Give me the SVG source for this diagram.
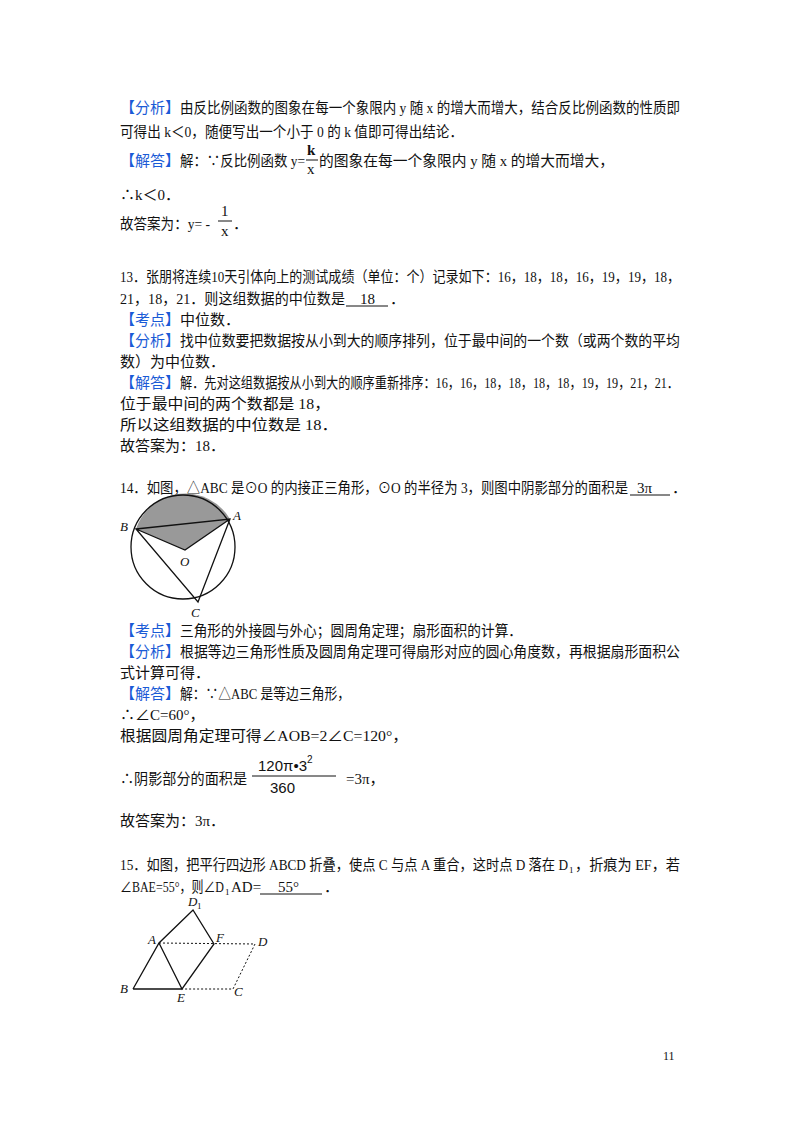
<svg xmlns="http://www.w3.org/2000/svg" width="800" height="1132" viewBox="0 0 800 1132">
<style>
text{font-family:"Liberation Serif","Noto Sans CJK SC",serif;font-size:15px;fill:#111}
.b{fill:#1a5bd6}
.s{font-size:9px}
.l{stroke:#111;stroke-width:1.3;fill:none}
.d{stroke:#111;stroke-width:1;fill:none;stroke-dasharray:2,2}
.ul{stroke:#111;stroke-width:1}
.it{font-style:italic;font-size:13px}
</style>
<rect width="800" height="1132" fill="#fff"/>
<text class="b" x="120" y="113">【分析】</text>
<text x="180" y="113" textLength="500" lengthAdjust="spacingAndGlyphs">由反比例函数的图象在每一个象限内 y 随 x 的增大而增大，结合反比例函数的性质即</text>
<text x="120" y="137" textLength="343" lengthAdjust="spacingAndGlyphs">可得出 k＜0，随便写出一个小于 0 的 k 值即可得出结论．</text>
<text class="b" x="120" y="166">【解答】</text>
<text x="180" y="166" textLength="125" lengthAdjust="spacingAndGlyphs">解：∵反比例函数 y=</text>
<text x="307" y="155" style="font-weight:bold">k</text>
<line x1="306" y1="160" x2="318" y2="160" stroke="#111"/>
<text x="307" y="174">x</text>
<text x="319" y="166" textLength="295" lengthAdjust="spacingAndGlyphs">的图象在每一个象限内 y 随 x 的增大而增大，</text>
<text x="120" y="200">∴k＜0．</text>
<text x="120" y="229" textLength="90" lengthAdjust="spacingAndGlyphs">故答案为：y= -</text>
<text x="221" y="216">1</text>
<line x1="218" y1="221" x2="232" y2="221" stroke="#111"/>
<text x="221" y="236">x</text>
<text x="233" y="229">．</text>
<text x="120" y="282" textLength="560" lengthAdjust="spacingAndGlyphs">13．张朋将连续10天引体向上的测试成绩（单位：个）记录如下：16，18，18，16，19，19，18，</text>
<text x="120" y="304" textLength="225" lengthAdjust="spacingAndGlyphs">21，18，21．则这组数据的中位数是</text>
<text x="360" y="304">18</text>
<line class="ul" x1="346" y1="306" x2="388" y2="306"/>
<text x="390" y="304">．</text>
<text class="b" x="120" y="325">【考点】</text>
<text x="180" y="325">中位数．</text>
<text class="b" x="120" y="346">【分析】</text>
<text x="180" y="346" textLength="500" lengthAdjust="spacingAndGlyphs">找中位数要把数据按从小到大的顺序排列，位于最中间的一个数（或两个数的平均</text>
<text x="120" y="367">数）为中位数．</text>
<text class="b" x="120" y="388">【解答】</text>
<text x="180" y="388" textLength="499" lengthAdjust="spacingAndGlyphs">解．先对这组数据按从小到大的顺序重新排序：16，16，18，18，18，18，19，19，21，21．</text>
<text x="120" y="409" textLength="210" lengthAdjust="spacingAndGlyphs">位于最中间的两个数都是 18，</text>
<text x="120" y="430" textLength="218" lengthAdjust="spacingAndGlyphs">所以这组数据的中位数是 18．</text>
<text x="120" y="451">故答案为：18．</text>
<text x="120" y="493" textLength="508" lengthAdjust="spacingAndGlyphs">14．如图，△ABC 是⊙O 的内接正三角形，⊙O 的半径为 3，则图中阴影部分的面积是</text>
<text x="637" y="493">3π</text>
<line class="ul" x1="630" y1="495" x2="670" y2="495"/>
<text x="672" y="493">．</text>
<g id="circle">
<path d="M185 550 L136 529 A52 52 0 0 1 230 519 Z" fill="#999"/>
<circle cx="183" cy="547" r="52" class="l"/>
<path d="M136 529 L230 519 L198 602 Z M136 529 L185 550 L230 519" class="l"/>
<text class="it" x="120" y="531">B</text><text class="it" x="233" y="520">A</text>
<text class="it" x="180" y="566">O</text><text class="it" x="191" y="617">C</text>
</g>
<text class="b" x="120" y="636">【考点】</text>
<text x="180" y="636" textLength="342" lengthAdjust="spacingAndGlyphs">三角形的外接圆与外心；圆周角定理；扇形面积的计算．</text>
<text class="b" x="120" y="657">【分析】</text>
<text x="180" y="657" textLength="500" lengthAdjust="spacingAndGlyphs">根据等边三角形性质及圆周角定理可得扇形对应的圆心角度数，再根据扇形面积公</text>
<text x="120" y="678">式计算可得．</text>
<text class="b" x="120" y="699">【解答】</text>
<text x="180" y="699" textLength="170" lengthAdjust="spacingAndGlyphs">解：∵△ABC 是等边三角形，</text>
<text x="120" y="720">∴∠C=60°，</text>
<text x="120" y="741" textLength="288" lengthAdjust="spacingAndGlyphs">根据圆周角定理可得∠AOB=2∠C=120°，</text>
<text x="258" y="771" style="font-family:'Liberation Sans',sans-serif">120π•3</text>
<text x="307" y="763" style="font-family:'Liberation Sans',sans-serif;font-size:10px">2</text>
<line x1="252" y1="776" x2="336" y2="776" stroke="#111"/>
<text x="270" y="793" style="font-family:'Liberation Sans',sans-serif">360</text>
<text x="120" y="784" textLength="127" lengthAdjust="spacingAndGlyphs">∴阴影部分的面积是</text>
<text x="346" y="784">=3π，</text>
<text x="120" y="826">故答案为：3π．</text>
<text x="120" y="870" textLength="448" lengthAdjust="spacingAndGlyphs">15．如图，把平行四边形 ABCD 折叠，使点 C 与点 A 重合，这时点 D 落在 D</text>
<text class="s" x="569" y="873">1</text>
<text x="575" y="870" textLength="105" lengthAdjust="spacingAndGlyphs">，折痕为 EF，若</text>
<text x="120" y="892" textLength="104" lengthAdjust="spacingAndGlyphs">∠BAE=55°，则∠D</text>
<text class="s" x="225" y="895">1</text>
<text x="231" y="892">AD=</text>
<text x="278" y="892">55°</text>
<line class="ul" x1="260" y1="894" x2="322" y2="894"/>
<text x="324" y="892">．</text>
<g id="parallelogram">
<path d="M133 989 L159 943 L193 910 L214 944 L182 989 L159 943 M133 989 L182 989" class="l"/>
<path d="M159 943 L255 944 L233 989 L182 989" class="d"/>
<text class="it" x="188" y="906">D</text><text class="s" x="197" y="909">1</text>
<text class="it" x="148" y="944">A</text><text class="it" x="216" y="942">F</text>
<text class="it" x="258" y="946">D</text><text class="it" x="120" y="993">B</text>
<text class="it" x="177" y="1002">E</text><text class="it" x="234" y="996">C</text>
</g>
<text x="663" y="1060" style="font-size:12px">11</text>
</svg>
